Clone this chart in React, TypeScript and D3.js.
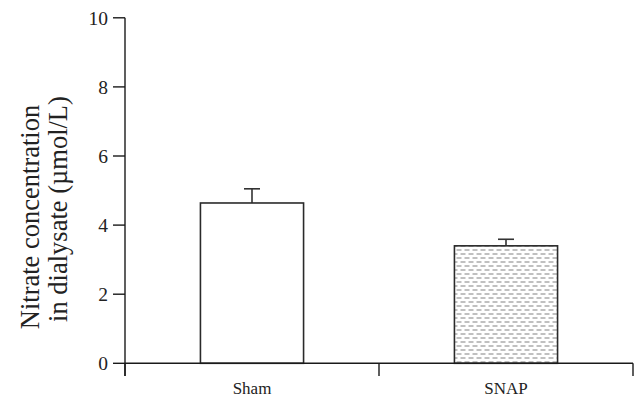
import React from "react";
import * as d3 from "d3";

const categories = ["Sham", "SNAP"];
const means = [4.64, 3.40];
const errors = [0.41, 0.19];
const yTicks = [0, 2, 4, 6, 8, 10];
const yLabelLines = ["Nitrate concentration", "in dialysate (µmol/L)"];

const W = 638;
const H = 402;
const x0 = 125;
const x1 = 633;
const yBottom = 363.3;
const yTop = 17.8;

export default function App() {
  const x = d3.scaleBand<string>().domain(categories).range([x0, x1]).paddingInner(0.594).paddingOuter(0.297);
  const y = d3.scaleLinear().domain([0, 10]).range([yBottom, yTop]);
  const step = x.step();
  const bw = x.bandwidth();
  const font = "'Liberation Serif', 'Times New Roman', serif";
  const axisColor = "#1a1a1a";
  const boundaries = [x0, ...categories.slice(1).map((c) => (x(c) as number) - (step - bw) / 2), x1];
  return (
    <div style={{ position: "absolute", left: 0, top: 0 }}>
      <svg width={W} height={H} style={{ display: "block", background: "#fff" }}>
        <defs>
          <pattern id="dash" patternUnits="userSpaceOnUse" width={8} height={8}>
            <rect x={0} y={0} width={8} height={8} fill="#fff" />
            <rect x={0.5} y={1.3} width={5} height={1.4} fill="#a6a6a6" />
            <rect x={4.5} y={5.3} width={5} height={1.4} fill="#a6a6a6" />
            <rect x={-3.5} y={5.3} width={5} height={1.4} fill="#a6a6a6" />
          </pattern>
        </defs>
        {categories.map((c, i) => {
          const bx = x(c) as number;
          const cx = bx + bw / 2;
          const top = y(means[i]);
          const et = y(means[i] + errors[i]);
          return (
            <g key={c}>
              <line x1={cx} x2={cx} y1={top} y2={et} stroke="#333" strokeWidth={1.6} />
              <line x1={cx - 8} x2={cx + 8} y1={et} y2={et} stroke="#333" strokeWidth={1.6} />
              <rect
                x={bx}
                y={top}
                width={bw}
                height={yBottom - top}
                fill={i === 0 ? "#fff" : "url(#dash)"}
                stroke="#2a2a2a"
                strokeWidth={1.6}
              />
            </g>
          );
        })}
        <line x1={x0} x2={x0} y1={yTop} y2={376} stroke={axisColor} strokeWidth={1.4} />
        {yTicks.map((t) => (
          <g key={t}>
            <line x1={113} x2={x0} y1={y(t)} y2={y(t)} stroke={axisColor} strokeWidth={1.4} />
            <text
              x={108}
              y={y(t)}
              dy="0.35em"
              textAnchor="end"
              fontFamily={font}
              fontSize={19.5}
              fill="#222"
            >
              {t}
            </text>
          </g>
        ))}
        <line x1={x0} x2={x1} y1={yBottom} y2={yBottom} stroke={axisColor} strokeWidth={1.4} />
        {boundaries.map((b, i) => (
          <line key={i} x1={b} x2={b} y1={yBottom} y2={376} stroke={axisColor} strokeWidth={1.4} />
        ))}
        {categories.map((c) => (
          <text
            key={c}
            x={(x(c) as number) + bw / 2}
            y={394}
            textAnchor="middle"
            fontFamily={font}
            fontSize={17}
            fill="#222"
          >
            {c}
          </text>
        ))}
        {yLabelLines.map((l, i) => (
          <text
            key={i}
            transform={`translate(${i === 0 ? 38.5 : 67},${i === 0 ? 217 : 209}) rotate(-90)`}
            textAnchor="middle"
            fontFamily={font}
            fontSize={26.5}
            fill="#222"
          >
            {l}
          </text>
        ))}
      </svg>
    </div>
  );
}
